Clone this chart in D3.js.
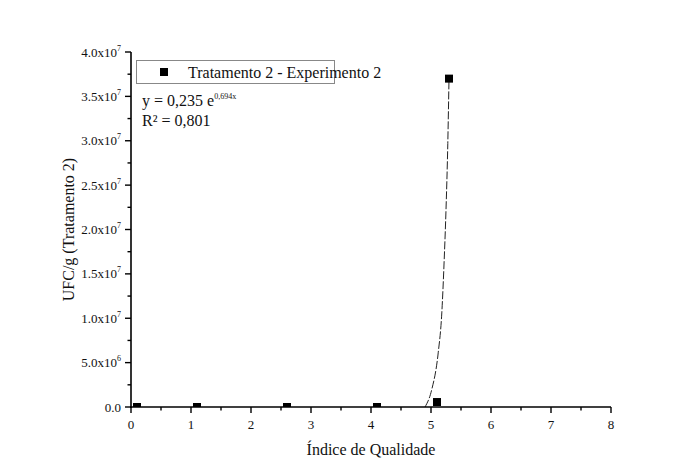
<!DOCTYPE html>
<html>
<head>
<meta charset="utf-8">
<script src="https://cdn.jsdelivr.net/npm/d3@7"></script>
<style>
  body { margin: 0; background: #fff; }
  text { font-family: "Liberation Serif", "Times New Roman", serif; fill: #111; }
</style>
</head>
<body>
<div id="chart"></div>
<script>
// measured points (Tratamento 2 - Experimento 2)
const pointX = [0.1, 1.1, 2.6, 4.1, 5.1, 5.3];
const pointY = [0, 0, 0, 0, 5.6e5, 3.7e7];

// fitted curve
const fitX = [4.9, 5.01, 5.12, 5.18, 5.22, 5.25, 5.28, 5.3];
const fitY = [0, 1.9e6, 6.1e6, 1.06e7, 1.66e7, 2.22e7, 2.97e7, 3.7e7];

// ticks
const xTicks = [0, 1, 2, 3, 4, 5, 6, 7, 8];
const xMinor = [0.5, 1.5, 2.5, 3.5, 4.5, 5.5, 6.5, 7.5];
const yTicks = [0, 5e6, 1e7, 1.5e7, 2e7, 2.5e7, 3e7, 3.5e7, 4e7];
const yMinor = [2.5e6, 7.5e6, 1.25e7, 1.75e7, 2.25e7, 2.75e7, 3.25e7, 3.75e7];
const yTickBase = ["0.0", "5.0x10", "1.0x10", "1.5x10", "2.0x10", "2.5x10", "3.0x10", "3.5x10", "4.0x10"];
const yTickExp = ["", "6", "7", "7", "7", "7", "7", "7", "7"];

const legendLabel = "Tratamento 2 - Experimento 2";
const eqText = "y = 0,235 e";
const eqExp = "0,694x";
const r2Text = "R\u00B2 = 0,801";
const xTitle = "\u00CDndice de Qualidade";
const yTitle = "UFC/g (Tratamento 2)";

const w = 691, h = 476;
const padLeft = 131, padRight = 611, padTop = 52, padBottom = 407;

let svg = d3.select("#chart").append("svg")
    .attr("width", w)
    .attr("height", h);

var xScale = d3.scaleLinear().domain([0, 8]).range([padLeft, padRight]);
var yScale = d3.scaleLinear().domain([0, 4e7]).range([padBottom, padTop]);

// clip to plot area
svg.append("clipPath").attr("id", "plotClip")
    .append("rect")
    .attr("x", padLeft).attr("y", padTop - 10)
    .attr("width", padRight - padLeft).attr("height", padBottom - padTop + 10);

// fitted curve
var line = d3.line()
    .curve(d3.curveMonotoneX)
    .x(function(d) { return xScale(d[0]); })
    .y(function(d) { return yScale(d[1]); });

svg.append("path")
    .datum(fitX.map(function(x, i) { return [x, fitY[i]]; }))
    .attr("d", line)
    .attr("fill", "none")
    .attr("stroke", "#222")
    .attr("stroke-width", 1)
    .attr("stroke-dasharray", "8,2");

// points
svg.append("g").attr("clip-path", "url(#plotClip)")
    .selectAll("rect")
    .data(pointX.map(function(x, i) { return [x, pointY[i]]; }))
    .join("rect")
    .attr("x", function(d) { return xScale(d[0]) - 4; })
    .attr("y", function(d) { return yScale(d[1]) - 4; })
    .attr("width", 8)
    .attr("height", 8)
    .attr("fill", "#000");

// x axis
var xAxis = svg.append("g");
xAxis.append("line")
    .attr("x1", padLeft - 1).attr("x2", padRight)
    .attr("y1", padBottom).attr("y2", padBottom)
    .attr("stroke", "#000").attr("stroke-width", 1.6);
xAxis.selectAll(".maj").data(xTicks).join("line")
    .attr("x1", d => xScale(d)).attr("x2", d => xScale(d))
    .attr("y1", padBottom).attr("y2", padBottom + 6)
    .attr("stroke", "#000").attr("stroke-width", 1.4);
xAxis.selectAll(".min").data(xMinor).join("line")
    .attr("x1", d => xScale(d)).attr("x2", d => xScale(d))
    .attr("y1", padBottom).attr("y2", padBottom + 3.5)
    .attr("stroke", "#000").attr("stroke-width", 1.4);
xAxis.selectAll("text").data(xTicks).join("text")
    .attr("x", d => xScale(d))
    .attr("y", padBottom + 22)
    .attr("text-anchor", "middle")
    .attr("font-size", 13)
    .text(d => d);

// y axis
var yAxis = svg.append("g");
yAxis.append("line")
    .attr("x1", padLeft).attr("x2", padLeft)
    .attr("y1", padTop).attr("y2", padBottom + 1)
    .attr("stroke", "#000").attr("stroke-width", 1.6);
yAxis.selectAll(".maj").data(yTicks).join("line")
    .attr("x1", padLeft - 6).attr("x2", padLeft)
    .attr("y1", d => yScale(d)).attr("y2", d => yScale(d))
    .attr("stroke", "#000").attr("stroke-width", 1.4);
yAxis.selectAll(".min").data(yMinor).join("line")
    .attr("x1", padLeft - 3.5).attr("x2", padLeft)
    .attr("y1", d => yScale(d)).attr("y2", d => yScale(d))
    .attr("stroke", "#000").attr("stroke-width", 1.4);
var yLab = yAxis.selectAll("text").data(yTicks).join("text")
    .attr("x", padLeft - 10)
    .attr("y", d => yScale(d) + 4.5)
    .attr("text-anchor", "end")
    .attr("font-size", 13);
yLab.append("tspan").text((d, i) => yTickBase[i]);
yLab.append("tspan")
    .attr("dy", -6)
    .attr("font-size", 8)
    .text((d, i) => yTickExp[i]);

// axis titles
svg.append("text")
    .attr("x", (padLeft + padRight) / 2)
    .attr("y", 455)
    .attr("text-anchor", "middle")
    .attr("font-size", 16)
    .text(xTitle);
svg.append("text")
    .attr("transform", "translate(74," + ((padTop + padBottom) / 2) + ") rotate(-90)")
    .attr("text-anchor", "middle")
    .attr("font-size", 16)
    .text(yTitle);

// legend
var legend = svg.append("g");
legend.append("rect")
    .attr("x", 136.5).attr("y", 60.5)
    .attr("width", 198).attr("height", 23)
    .attr("fill", "#fff")
    .attr("stroke", "#888")
    .attr("stroke-width", 1);
legend.append("rect")
    .attr("x", 160).attr("y", 68)
    .attr("width", 8).attr("height", 8)
    .attr("fill", "#000");
legend.append("text")
    .attr("x", 188).attr("y", 78)
    .attr("font-size", 16)
    .text(legendLabel);

var eq = svg.append("text")
    .attr("x", 142).attr("y", 106)
    .attr("font-size", 16);
eq.append("tspan").text(eqText);
eq.append("tspan").attr("dy", -7).attr("font-size", 8).text(eqExp);
svg.append("text")
    .attr("x", 142).attr("y", 126)
    .attr("font-size", 16)
    .text(r2Text);
</script>
</body>
</html>
